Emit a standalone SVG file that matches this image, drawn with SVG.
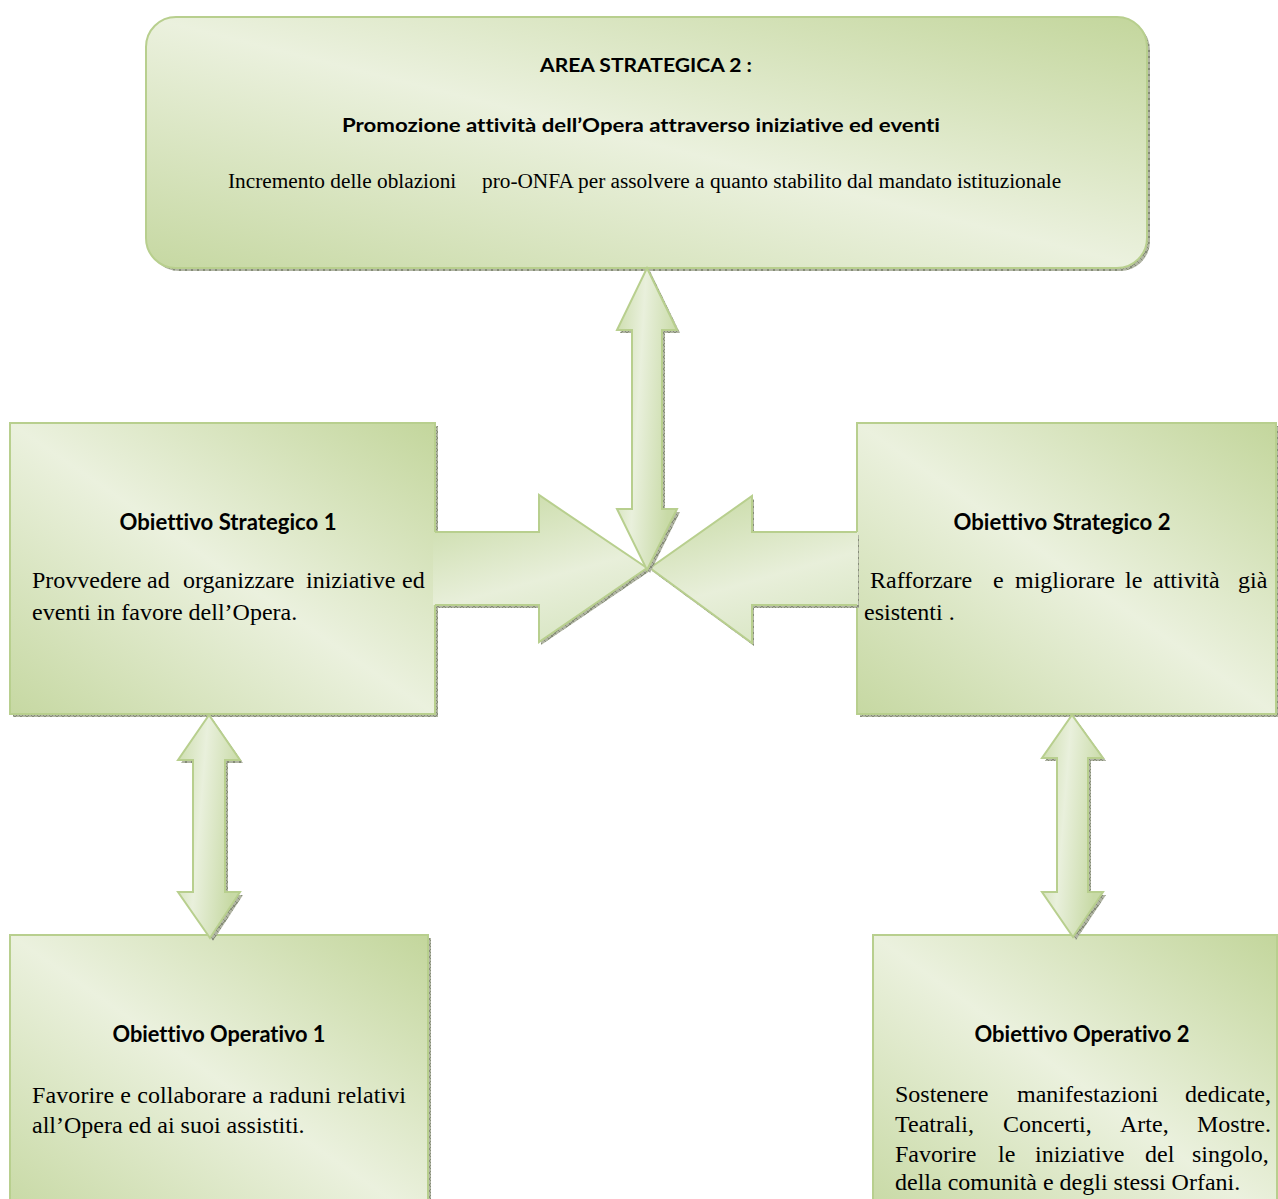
<svg xmlns="http://www.w3.org/2000/svg" width="1278" height="1199" viewBox="0 0 1278 1199">
<defs>
<linearGradient id="g" x1="1" y1="0" x2="0" y2="1">
<stop offset="0" stop-color="#c3d69c"/>
<stop offset="0.5" stop-color="#ebf1de"/>
<stop offset="1" stop-color="#c6d8a2"/>
</linearGradient>
<linearGradient id="gv" x1="0" y1="0" x2="1" y2="0.3">
<stop offset="0" stop-color="#cbdcab"/>
<stop offset="0.45" stop-color="#e9f0dc"/>
<stop offset="1" stop-color="#c8daa6"/>
</linearGradient>
<linearGradient id="gh" x1="0.2" y1="0" x2="0.6" y2="1">
<stop offset="0" stop-color="#c9dba7"/>
<stop offset="0.6" stop-color="#e8efda"/>
<stop offset="1" stop-color="#d9e6c4"/>
</linearGradient>
<pattern id="hatch" width="6" height="6" patternUnits="userSpaceOnUse">
<rect width="6" height="6" fill="#b0b4a3"/>
<path d="M0 0L6 6M6 0L0 6" stroke="#7a826c" stroke-width="0.8"/>
</pattern>
<style>
.box{fill:url(#g);stroke:#b8cf8e;stroke-width:2}
.sh{fill:url(#hatch)}
.av{fill:url(#gv);stroke:#b8cf8e;stroke-width:2}
.ahf{fill:url(#gh)}
.ahl{fill:none;stroke:#b8cf8e;stroke-width:2}
.h{font-family:Lato,"Liberation Sans",sans-serif;font-weight:bold;fill:#000;text-anchor:middle;font-variant-ligatures:none}
.h1{font-size:19.5px}
.h2{font-size:22px}
.t{font-family:"Liberation Serif","Times New Roman",serif;fill:#000}
.t1{font-size:21.3px}
.t2{font-size:24px}
</style>
</defs>

<g id="area-strategica">
<rect class="sh" x="149" y="20" width="1001" height="251" rx="30"/>
<rect class="box" x="146" y="17" width="1001" height="251" rx="30"/>
<text class="h h1" x="646" y="72" textLength="212" lengthAdjust="spacingAndGlyphs">AREA STRATEGICA 2 :</text>
<text class="h h1" x="641" y="132" textLength="598" lengthAdjust="spacingAndGlyphs">Promozione attività dell’Opera attraverso iniziative ed eventi</text>
<text class="t t1" x="228" y="188">Incremento delle oblazioni</text>
<text class="t t1" x="482" y="188">pro-ONFA per assolvere a quanto stabilito dal mandato istituzionale</text>
</g>

<g id="obiettivo-strategico-1">
<rect class="sh" x="13" y="426" width="425" height="291"/>
<rect class="box" x="10" y="423" width="425" height="291"/>
<text class="h h2" x="228" y="530" textLength="217" lengthAdjust="spacingAndGlyphs">Obiettivo Strategico 1</text>
<text class="t t2" y="588"><tspan x="32">Provvedere</tspan><tspan x="147">ad</tspan><tspan x="183">organizzare</tspan><tspan x="306">iniziative</tspan><tspan x="402">ed</tspan></text>
<text class="t t2" x="32" y="620">eventi in favore dell’Opera.</text>
</g>

<g id="obiettivo-strategico-2">
<rect class="sh" x="860" y="426" width="419" height="291"/>
<rect class="box" x="857" y="423" width="419" height="291"/>
<text class="h h2" x="1062" y="530" textLength="217" lengthAdjust="spacingAndGlyphs">Obiettivo Strategico 2</text>
<text class="t t2" y="588"><tspan x="870">Rafforzare</tspan><tspan x="993">e</tspan><tspan x="1015">migliorare</tspan><tspan x="1125">le</tspan><tspan x="1153">attività</tspan><tspan x="1238">già</tspan></text>
<text class="t t2" x="864" y="620">esistenti .</text>
</g>

<g id="obiettivo-operativo-1">
<rect class="sh" x="13" y="938" width="418" height="290"/>
<rect class="box" x="10" y="935" width="418" height="290"/>
<text class="h h2" x="219" y="1042" textLength="213" lengthAdjust="spacingAndGlyphs">Obiettivo Operativo 1</text>
<text class="t t2" x="32" y="1103" textLength="374" lengthAdjust="spacing">Favorire e collaborare a raduni relativi</text>
<text class="t t2" x="32" y="1133">all’Opera ed ai suoi assistiti.</text>
</g>

<g id="obiettivo-operativo-2">
<rect class="sh" x="876" y="938" width="404" height="290"/>
<rect class="box" x="873" y="935" width="404" height="290"/>
<text class="h h2" x="1082" y="1042" textLength="215" lengthAdjust="spacingAndGlyphs">Obiettivo Operativo 2</text>
<text class="t t2" y="1102"><tspan x="895">Sostenere</tspan><tspan x="1017">manifestazioni</tspan><tspan x="1185">dedicate,</tspan></text>
<text class="t t2" y="1132"><tspan x="895">Teatrali,</tspan><tspan x="1003">Concerti,</tspan><tspan x="1120">Arte,</tspan><tspan x="1197">Mostre.</tspan></text>
<text class="t t2" y="1162"><tspan x="895">Favorire</tspan><tspan x="998">le</tspan><tspan x="1035">iniziative</tspan><tspan x="1145">del</tspan><tspan x="1192">singolo,</tspan></text>
<text class="t t2" x="895" y="1190">della comunità e degli stessi Orfani.</text>
</g>

<g id="connectors">
<path class="sh" d="M437 535 H541 V498 L650 571 L541 645 V608 H437 Z"/>
<path class="ahf" d="M433 532 H539 V495 L647 568 L539 642 V605 H433 Z"/>
<path class="ahl" d="M435 532 H539 V495 L647 568 L539 642 V605 H435"/>
<path class="sh" d="M859 535 H754 V499 L652 571 L754 646 V608 H859 Z"/>
<path class="ahf" d="M858 532 H752 V496 L650 568 L752 643 V605 H858 Z"/>
<path class="ahl" d="M857 532 H752 V496 L650 568 L752 643 V605 H857"/>
<path class="sh" d="M650 271 L680 333 H665 V512 H680 L650 573 L620 512 H635 V333 H620 Z"/>
<path class="av" d="M647 268 L677 330 H662 V509 H677 L647 570 L617 509 H632 V330 H617 Z"/>
<path class="sh" d="M212 718 L243 763 H228 V895 H243 L213 941 L181 895 H196 V763 H181 Z"/>
<path class="av" d="M209 715 L240 760 H225 V892 H240 L210 938 L178 892 H193 V760 H178 Z"/>
<path class="sh" d="M1075 718 L1106 761 H1091 V895 H1106 L1076 940 L1045 895 H1060 V761 H1045 Z"/>
<path class="av" d="M1072 715 L1103 758 H1088 V892 H1103 L1073 937 L1042 892 H1057 V758 H1042 Z"/>
</g>
</svg>
